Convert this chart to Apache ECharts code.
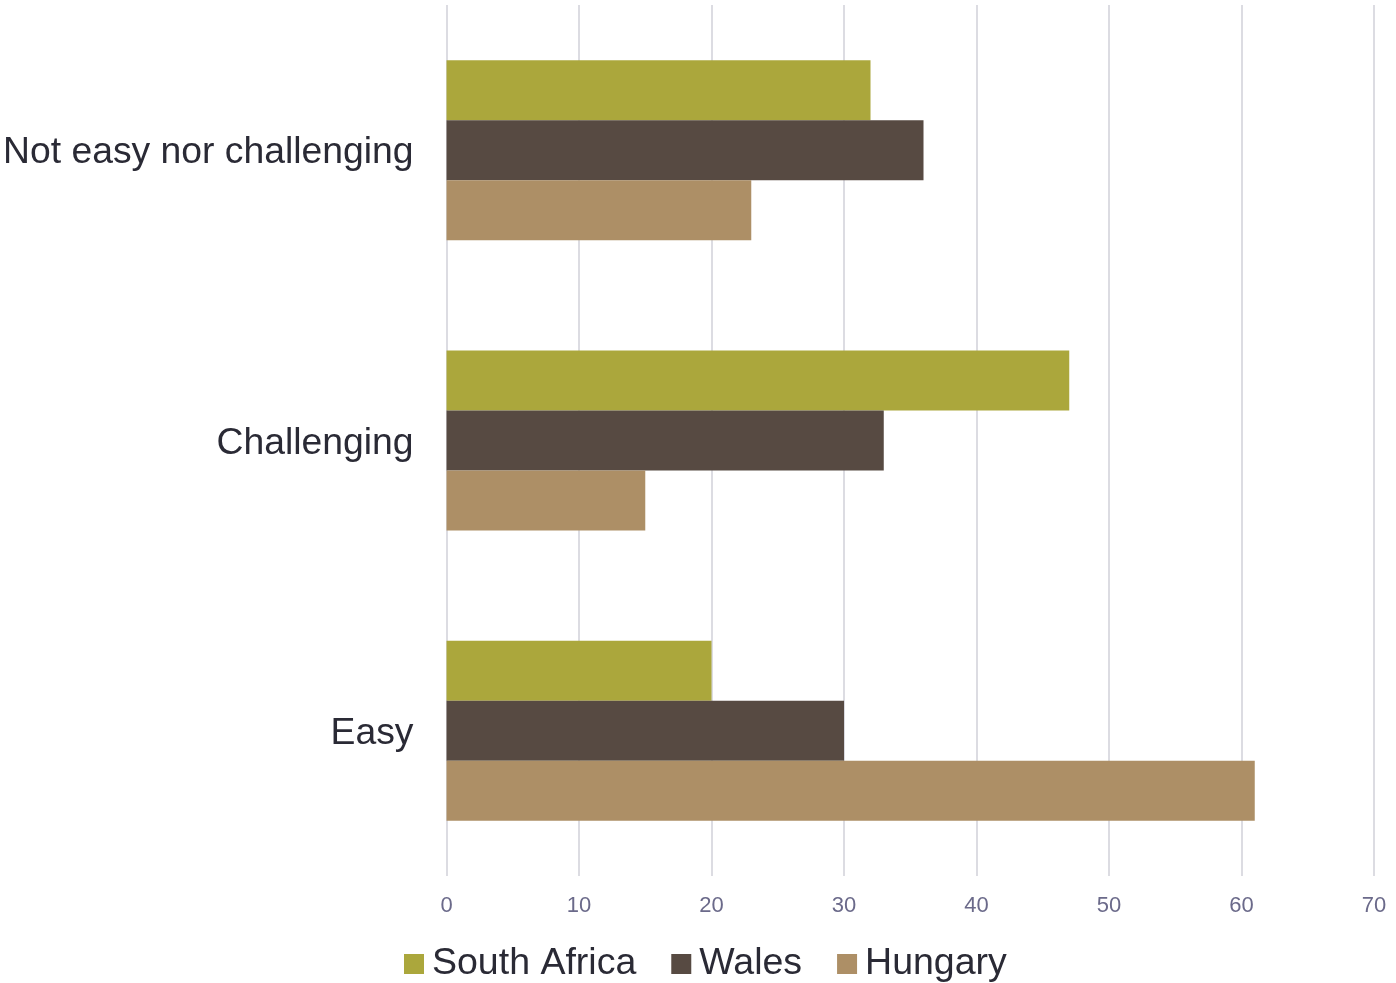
<!DOCTYPE html>
<html>
<head>
<meta charset="utf-8">
<script src="https://cdn.jsdelivr.net/npm/echarts@6/dist/echarts.min.js"></script>
<style>
  html, body { margin: 0; padding: 0; background: #ffffff; }
  #chart { width: 1396px; height: 983px; }
</style>
</head>
<body>
<div id="chart"></div>
<script>
// Response categories, listed bottom to top on the y axis
const categories = ['Easy', 'Challenging', 'Not easy nor challenging'];
const seriesNames = ['South Africa', 'Wales', 'Hungary'];
const southAfrica = [20, 47, 32];
const wales = [30, 33, 36];
const hungary = [61, 15, 23];
const xTicks = [0, 10, 20, 30, 40, 50, 60, 70];

const colors = ['#aba73c', '#574a42', '#ad8f66'];
const values = [southAfrica, wales, hungary];
const font = '"Liberation Sans", Arial, sans-serif';

const chart = echarts.init(document.getElementById('chart'));
chart.setOption({
  animation: false,
  grid: { left: 446, right: 22, top: 5, bottom: 107, containLabel: false },
  legend: {
    bottom: -5,
    left: 399,
    itemWidth: 20,
    itemHeight: 20,
    itemGap: 35,
    icon: 'rect',
    textStyle: { fontFamily: font, fontSize: 37.5, color: '#2a2a35', padding: [0, 0, 0, 3] },
    data: seriesNames
  },
  xAxis: {
    type: 'value',
    min: xTicks[0],
    max: xTicks[xTicks.length - 1],
    interval: 10,
    axisLine: { show: false },
    axisTick: { show: false },
    axisLabel: { fontFamily: font, fontSize: 22, color: '#6b6a8a', margin: 19 },
    splitLine: { show: true, lineStyle: { color: '#dcdce2', width: 2 } }
  },
  yAxis: {
    type: 'category',
    data: categories,
    axisLine: { show: false },
    axisTick: { show: false },
    axisLabel: {
      margin: 33,
      formatter: '{c|{value}}',
      rich: {
        c: { fontFamily: font, fontSize: 37.3, color: '#2a2a35', padding: [6, 0, 0, 0] }
      }
    }
  },
  series: seriesNames.map((name, i) => ({
    name: name,
    type: 'bar',
    data: values[i],
    barWidth: 60,
    barGap: '0%',
    itemStyle: { color: colors[i] }
  }))
});
</script>
</body>
</html>
